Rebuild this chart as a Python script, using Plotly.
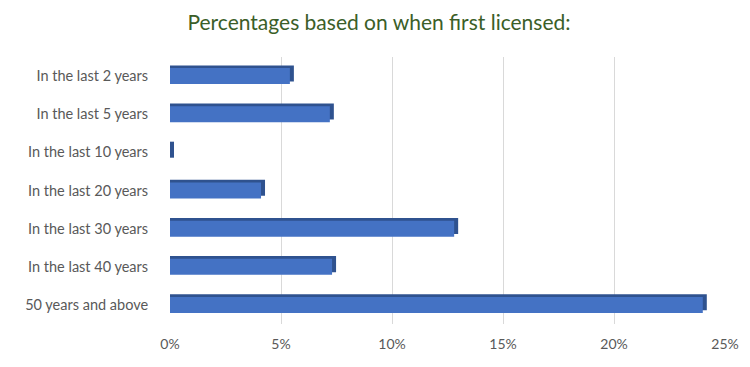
import plotly.graph_objects as go

categories = ["In the last 2 years", "In the last 5 years", "In the last 10 years",
              "In the last 20 years", "In the last 30 years", "In the last 40 years",
              "50 years and above"]
values = [0.054, 0.072, 0.0, 0.041, 0.128, 0.073, 0.240]
tick_vals = [0, 0.05, 0.10, 0.15, 0.20, 0.25]
tick_text = ["0%", "5%", "10%", "15%", "20%", "25%"]

title_text = "Percentages based on when first licensed:"

bar_w = 0.42
depth_x = 0.0018
depth_y = 0.07

fig = go.Figure()
# darker "depth" bar behind to mimic the 3D look
fig.add_trace(go.Bar(
    y=categories, x=[v + depth_x for v in values], orientation="h",
    width=bar_w, offset=-bar_w / 2 - depth_y,
    marker=dict(color="#2F528F", line=dict(width=0)),
    hoverinfo="skip", showlegend=False,
))
fig.add_trace(go.Bar(
    y=categories, x=values, orientation="h",
    width=bar_w, offset=-bar_w / 2,
    marker=dict(color="#4472C4", line=dict(width=0)),
    showlegend=False,
))

# page body has an 8px default margin, so the figure is sized to fit the window
fig.update_layout(
    width=742, height=359,
    barmode="overlay",
    paper_bgcolor="white", plot_bgcolor="white",
    margin=dict(l=162, r=25, t=49, b=43),
    title=dict(text=title_text, x=0.5, xanchor="center", y=0.958, yanchor="middle",
               font=dict(family="Lato", size=21, color="#3B5E28")),
    font=dict(family="Lato", size=14, color="#595959"),
    xaxis=dict(range=[0, 0.25], tickvals=tick_vals, ticktext=tick_text,
               showgrid=True, gridcolor="#D9D9D9", gridwidth=1,
               zeroline=False, showline=False, automargin=False,
               ticks="outside", ticklen=7, tickcolor="rgba(0,0,0,0)",
               tickfont=dict(size=14, color="#595959")),
    yaxis=dict(autorange="reversed", showgrid=False, zeroline=False, showline=False,
               automargin=False,
               ticks="outside", ticklen=18, tickcolor="rgba(0,0,0,0)",
               tickfont=dict(size=14.5, color="#595959")),
)

fig.write_html("out.html")
